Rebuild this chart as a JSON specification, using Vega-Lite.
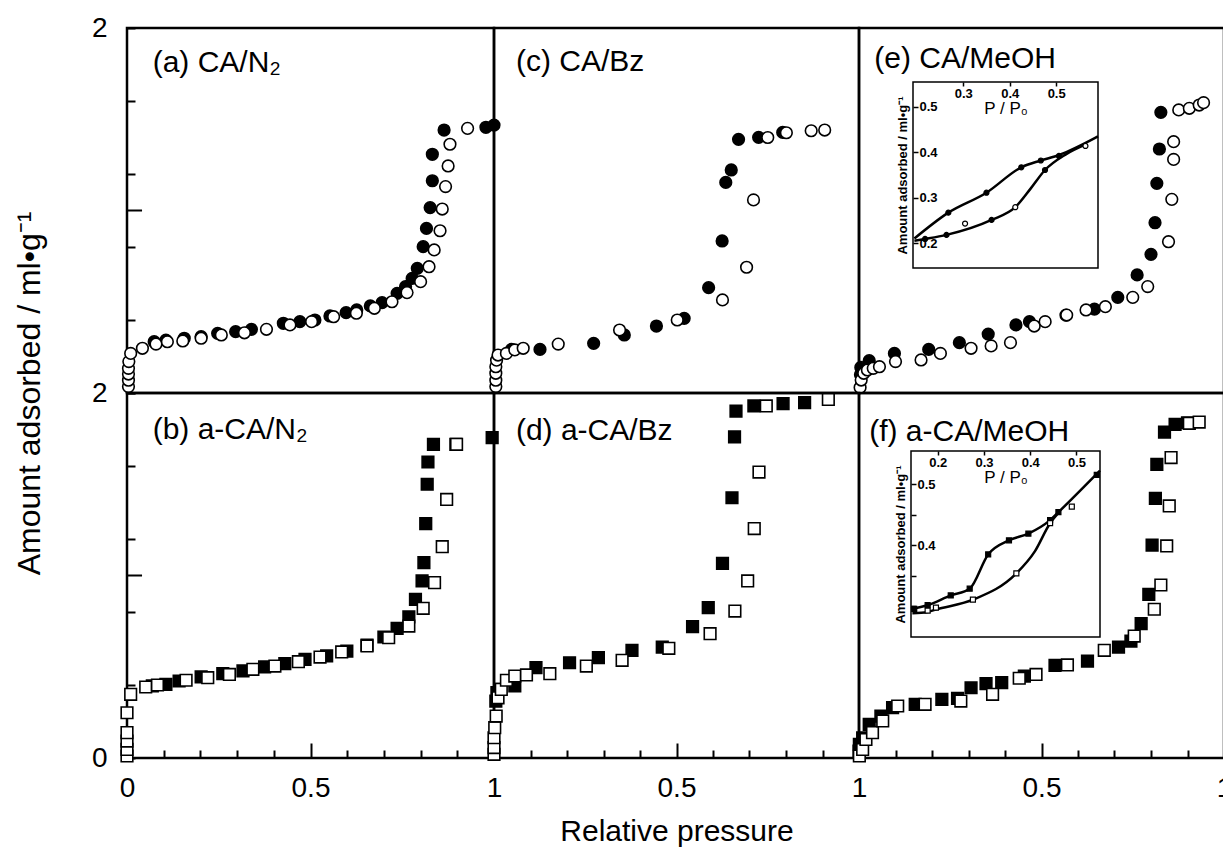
{
"$schema": "https://vega.github.io/schema/vega-lite/v6.json",
"background": "white",
"padding": {"left": 12, "top": 12, "right": 0, "bottom": 0},
"spacing": 0,
"bounds": "flush",
"columns": 3,
"config": {
  "font": "Liberation Sans",
  "view": {"stroke": "black", "strokeWidth": 2.5},
  "axis": {"domain": false, "grid": false, "tickColor": "black", "tickWidth": 2, "labelColor": "black", "titleColor": "black", "labelFontSize": 28, "titleFontSize": 32, "titleFontWeight": "normal", "labelFont": "Liberation Sans", "titleFont": "Liberation Sans", "labelFlush": false, "labelOverlap": false, "labelSeparation": 0}
},
"datasets": {
"iso": [
{"panel":"a","branch":"desorption","p":0.074,"v":0.281},{"panel":"a","branch":"desorption","p":0.106,"v":0.29},{"panel":"a","branch":"desorption","p":0.156,"v":0.30},{"panel":"a","branch":"desorption","p":0.202,"v":0.309},{"panel":"a","branch":"desorption","p":0.247,"v":0.327},{"panel":"a","branch":"desorption","p":0.296,"v":0.336},{"panel":"a","branch":"desorption","p":0.339,"v":0.349},{"panel":"a","branch":"desorption","p":0.426,"v":0.382},{"panel":"a","branch":"desorption","p":0.471,"v":0.391},{"panel":"a","branch":"desorption","p":0.512,"v":0.40},{"panel":"a","branch":"desorption","p":0.553,"v":0.422},{"panel":"a","branch":"desorption","p":0.597,"v":0.44},{"panel":"a","branch":"desorption","p":0.626,"v":0.455},{"panel":"a","branch":"desorption","p":0.663,"v":0.477},{"panel":"a","branch":"desorption","p":0.695,"v":0.495},{"panel":"a","branch":"desorption","p":0.736,"v":0.546},{"panel":"a","branch":"desorption","p":0.759,"v":0.583},{"panel":"a","branch":"desorption","p":0.777,"v":0.628},{"panel":"a","branch":"desorption","p":0.791,"v":0.683},{"panel":"a","branch":"desorption","p":0.807,"v":0.802},{"panel":"a","branch":"desorption","p":0.816,"v":0.902},{"panel":"a","branch":"desorption","p":0.826,"v":1.016},{"panel":"a","branch":"desorption","p":0.832,"v":1.163},{"panel":"a","branch":"desorption","p":0.832,"v":1.308},{"panel":"a","branch":"desorption","p":0.864,"v":1.441},{"panel":"a","branch":"desorption","p":0.978,"v":1.456},{"panel":"a","branch":"desorption","p":1.0,"v":1.468},
{"panel":"a","branch":"adsorption","p":0.004,"v":0.035},{"panel":"a","branch":"adsorption","p":0.004,"v":0.07},{"panel":"a","branch":"adsorption","p":0.004,"v":0.104},{"panel":"a","branch":"adsorption","p":0.004,"v":0.135},{"panel":"a","branch":"adsorption","p":0.005,"v":0.172},{"panel":"a","branch":"adsorption","p":0.01,"v":0.217},{"panel":"a","branch":"adsorption","p":0.042,"v":0.245},{"panel":"a","branch":"adsorption","p":0.079,"v":0.268},{"panel":"a","branch":"adsorption","p":0.11,"v":0.281},{"panel":"a","branch":"adsorption","p":0.152,"v":0.285},{"panel":"a","branch":"adsorption","p":0.202,"v":0.30},{"panel":"a","branch":"adsorption","p":0.257,"v":0.318},{"panel":"a","branch":"adsorption","p":0.32,"v":0.33},{"panel":"a","branch":"adsorption","p":0.38,"v":0.349},{"panel":"a","branch":"adsorption","p":0.444,"v":0.373},{"panel":"a","branch":"adsorption","p":0.503,"v":0.391},{"panel":"a","branch":"adsorption","p":0.563,"v":0.418},{"panel":"a","branch":"adsorption","p":0.625,"v":0.437},{"panel":"a","branch":"adsorption","p":0.674,"v":0.464},{"panel":"a","branch":"adsorption","p":0.722,"v":0.50},{"panel":"a","branch":"adsorption","p":0.763,"v":0.55},{"panel":"a","branch":"adsorption","p":0.80,"v":0.61},{"panel":"a","branch":"adsorption","p":0.823,"v":0.692},{"panel":"a","branch":"adsorption","p":0.837,"v":0.784},{"panel":"a","branch":"adsorption","p":0.853,"v":0.889},{"panel":"a","branch":"adsorption","p":0.859,"v":1.008},{"panel":"a","branch":"adsorption","p":0.868,"v":1.131},{"panel":"a","branch":"adsorption","p":0.875,"v":1.244},{"panel":"a","branch":"adsorption","p":0.88,"v":1.363},{"panel":"a","branch":"adsorption","p":0.928,"v":1.45},
{"panel":"c","branch":"desorption","p":0.048,"v":0.239},{"panel":"c","branch":"desorption","p":0.126,"v":0.239},{"panel":"c","branch":"desorption","p":0.273,"v":0.272},{"panel":"c","branch":"desorption","p":0.357,"v":0.318},{"panel":"c","branch":"desorption","p":0.445,"v":0.367},{"panel":"c","branch":"desorption","p":0.521,"v":0.409},{"panel":"c","branch":"desorption","p":0.588,"v":0.577},{"panel":"c","branch":"desorption","p":0.625,"v":0.833},{"panel":"c","branch":"desorption","p":0.635,"v":1.154},{"panel":"c","branch":"desorption","p":0.65,"v":1.222},{"panel":"c","branch":"desorption","p":0.67,"v":1.39},{"panel":"c","branch":"desorption","p":0.725,"v":1.401},{"panel":"c","branch":"desorption","p":0.791,"v":1.428},
{"panel":"c","branch":"adsorption","p":0.005,"v":0.035},{"panel":"c","branch":"adsorption","p":0.005,"v":0.07},{"panel":"c","branch":"adsorption","p":0.005,"v":0.108},{"panel":"c","branch":"adsorption","p":0.005,"v":0.144},{"panel":"c","branch":"adsorption","p":0.007,"v":0.18},{"panel":"c","branch":"adsorption","p":0.011,"v":0.208},{"panel":"c","branch":"adsorption","p":0.034,"v":0.217},{"panel":"c","branch":"adsorption","p":0.057,"v":0.236},{"panel":"c","branch":"adsorption","p":0.08,"v":0.245},{"panel":"c","branch":"adsorption","p":0.176,"v":0.268},{"panel":"c","branch":"adsorption","p":0.344,"v":0.345},{"panel":"c","branch":"adsorption","p":0.502,"v":0.40},{"panel":"c","branch":"adsorption","p":0.626,"v":0.51},{"panel":"c","branch":"adsorption","p":0.692,"v":0.689},{"panel":"c","branch":"adsorption","p":0.711,"v":1.058},{"panel":"c","branch":"adsorption","p":0.75,"v":1.40},{"panel":"c","branch":"adsorption","p":0.801,"v":1.426},{"panel":"c","branch":"adsorption","p":0.869,"v":1.437},{"panel":"c","branch":"adsorption","p":0.906,"v":1.441},
{"panel":"e","branch":"desorption","p":0.004,"v":0.1},{"panel":"e","branch":"desorption","p":0.005,"v":0.14},{"panel":"e","branch":"desorption","p":0.028,"v":0.177},{"panel":"e","branch":"desorption","p":0.097,"v":0.217},{"panel":"e","branch":"desorption","p":0.191,"v":0.239},{"panel":"e","branch":"desorption","p":0.275,"v":0.276},{"panel":"e","branch":"desorption","p":0.354,"v":0.323},{"panel":"e","branch":"desorption","p":0.43,"v":0.373},{"panel":"e","branch":"desorption","p":0.467,"v":0.391},{"panel":"e","branch":"desorption","p":0.567,"v":0.427},{"panel":"e","branch":"desorption","p":0.645,"v":0.46},{"panel":"e","branch":"desorption","p":0.709,"v":0.524},{"panel":"e","branch":"desorption","p":0.762,"v":0.647},{"panel":"e","branch":"desorption","p":0.80,"v":0.76},{"panel":"e","branch":"desorption","p":0.811,"v":0.933},{"panel":"e","branch":"desorption","p":0.816,"v":1.149},{"panel":"e","branch":"desorption","p":0.823,"v":1.337},{"panel":"e","branch":"desorption","p":0.827,"v":1.538},
{"panel":"e","branch":"adsorption","p":0.003,"v":0.03},{"panel":"e","branch":"adsorption","p":0.006,"v":0.071},{"panel":"e","branch":"adsorption","p":0.013,"v":0.108},{"panel":"e","branch":"adsorption","p":0.023,"v":0.126},{"panel":"e","branch":"adsorption","p":0.039,"v":0.135},{"panel":"e","branch":"adsorption","p":0.056,"v":0.144},{"panel":"e","branch":"adsorption","p":0.1,"v":0.172},{"panel":"e","branch":"adsorption","p":0.17,"v":0.181},{"panel":"e","branch":"adsorption","p":0.223,"v":0.217},{"panel":"e","branch":"adsorption","p":0.307,"v":0.245},{"panel":"e","branch":"adsorption","p":0.362,"v":0.258},{"panel":"e","branch":"adsorption","p":0.415,"v":0.276},{"panel":"e","branch":"adsorption","p":0.48,"v":0.367},{"panel":"e","branch":"adsorption","p":0.51,"v":0.391},{"panel":"e","branch":"adsorption","p":0.569,"v":0.427},{"panel":"e","branch":"adsorption","p":0.622,"v":0.455},{"panel":"e","branch":"adsorption","p":0.675,"v":0.473},{"panel":"e","branch":"adsorption","p":0.75,"v":0.524},{"panel":"e","branch":"adsorption","p":0.791,"v":0.583},{"panel":"e","branch":"adsorption","p":0.848,"v":0.829},{"panel":"e","branch":"adsorption","p":0.857,"v":1.061},{"panel":"e","branch":"adsorption","p":0.862,"v":1.28},{"panel":"e","branch":"adsorption","p":0.862,"v":1.377},{"panel":"e","branch":"adsorption","p":0.876,"v":1.551},{"panel":"e","branch":"adsorption","p":0.905,"v":1.56},{"panel":"e","branch":"adsorption","p":0.932,"v":1.578},{"panel":"e","branch":"adsorption","p":0.944,"v":1.591},
{"panel":"b","branch":"desorption","p":0.069,"v":0.395},{"panel":"b","branch":"desorption","p":0.106,"v":0.404},{"panel":"b","branch":"desorption","p":0.142,"v":0.422},{"panel":"b","branch":"desorption","p":0.202,"v":0.444},{"panel":"b","branch":"desorption","p":0.261,"v":0.462},{"panel":"b","branch":"desorption","p":0.316,"v":0.477},{"panel":"b","branch":"desorption","p":0.375,"v":0.499},{"panel":"b","branch":"desorption","p":0.43,"v":0.517},{"panel":"b","branch":"desorption","p":0.485,"v":0.541},{"panel":"b","branch":"desorption","p":0.544,"v":0.559},{"panel":"b","branch":"desorption","p":0.599,"v":0.586},{"panel":"b","branch":"desorption","p":0.654,"v":0.619},{"panel":"b","branch":"desorption","p":0.70,"v":0.663},{"panel":"b","branch":"desorption","p":0.736,"v":0.71},{"panel":"b","branch":"desorption","p":0.768,"v":0.773},{"panel":"b","branch":"desorption","p":0.786,"v":0.869},{"panel":"b","branch":"desorption","p":0.804,"v":0.97},{"panel":"b","branch":"desorption","p":0.809,"v":1.07},{"panel":"b","branch":"desorption","p":0.814,"v":1.284},{"panel":"b","branch":"desorption","p":0.818,"v":1.50},{"panel":"b","branch":"desorption","p":0.82,"v":1.622},{"panel":"b","branch":"desorption","p":0.835,"v":1.719},{"panel":"b","branch":"desorption","p":0.896,"v":1.719},{"panel":"b","branch":"desorption","p":0.995,"v":1.755},
{"panel":"b","branch":"adsorption","p":0.0,"v":0.011},{"panel":"b","branch":"adsorption","p":0.0,"v":0.047},{"panel":"b","branch":"adsorption","p":0.0,"v":0.093},{"panel":"b","branch":"adsorption","p":0.0,"v":0.139},{"panel":"b","branch":"adsorption","p":0.0,"v":0.248},{"panel":"b","branch":"adsorption","p":0.01,"v":0.349},{"panel":"b","branch":"adsorption","p":0.051,"v":0.389},{"panel":"b","branch":"adsorption","p":0.083,"v":0.40},{"panel":"b","branch":"adsorption","p":0.161,"v":0.426},{"panel":"b","branch":"adsorption","p":0.22,"v":0.44},{"panel":"b","branch":"adsorption","p":0.279,"v":0.458},{"panel":"b","branch":"adsorption","p":0.343,"v":0.486},{"panel":"b","branch":"adsorption","p":0.403,"v":0.504},{"panel":"b","branch":"adsorption","p":0.467,"v":0.528},{"panel":"b","branch":"adsorption","p":0.526,"v":0.553},{"panel":"b","branch":"adsorption","p":0.585,"v":0.581},{"panel":"b","branch":"adsorption","p":0.654,"v":0.614},{"panel":"b","branch":"adsorption","p":0.713,"v":0.659},{"panel":"b","branch":"adsorption","p":0.768,"v":0.723},{"panel":"b","branch":"adsorption","p":0.807,"v":0.82},{"panel":"b","branch":"adsorption","p":0.838,"v":0.961},{"panel":"b","branch":"adsorption","p":0.859,"v":1.158},{"panel":"b","branch":"adsorption","p":0.871,"v":1.417},{"panel":"b","branch":"adsorption","p":0.898,"v":1.719},
{"panel":"d","branch":"desorption","p":0.005,"v":0.312},{"panel":"d","branch":"desorption","p":0.008,"v":0.358},{"panel":"d","branch":"desorption","p":0.016,"v":0.376},{"panel":"d","branch":"desorption","p":0.057,"v":0.395},{"panel":"d","branch":"desorption","p":0.115,"v":0.495},{"panel":"d","branch":"desorption","p":0.207,"v":0.522},{"panel":"d","branch":"desorption","p":0.286,"v":0.55},{"panel":"d","branch":"desorption","p":0.378,"v":0.59},{"panel":"d","branch":"desorption","p":0.461,"v":0.608},{"panel":"d","branch":"desorption","p":0.544,"v":0.72},{"panel":"d","branch":"desorption","p":0.587,"v":0.824},{"panel":"d","branch":"desorption","p":0.626,"v":1.067},{"panel":"d","branch":"desorption","p":0.652,"v":1.426},{"panel":"d","branch":"desorption","p":0.659,"v":1.759},{"panel":"d","branch":"desorption","p":0.663,"v":1.901},{"panel":"d","branch":"desorption","p":0.712,"v":1.929},{"panel":"d","branch":"desorption","p":0.792,"v":1.942},{"panel":"d","branch":"desorption","p":0.851,"v":1.947},
{"panel":"d","branch":"adsorption","p":0.0,"v":0.02},{"panel":"d","branch":"adsorption","p":0.0,"v":0.057},{"panel":"d","branch":"adsorption","p":0.0,"v":0.111},{"panel":"d","branch":"adsorption","p":0.002,"v":0.166},{"panel":"d","branch":"adsorption","p":0.006,"v":0.23},{"panel":"d","branch":"adsorption","p":0.011,"v":0.33},{"panel":"d","branch":"adsorption","p":0.02,"v":0.376},{"panel":"d","branch":"adsorption","p":0.034,"v":0.426},{"panel":"d","branch":"adsorption","p":0.057,"v":0.449},{"panel":"d","branch":"adsorption","p":0.089,"v":0.455},{"panel":"d","branch":"adsorption","p":0.153,"v":0.462},{"panel":"d","branch":"adsorption","p":0.253,"v":0.504},{"panel":"d","branch":"adsorption","p":0.351,"v":0.535},{"panel":"d","branch":"adsorption","p":0.479,"v":0.601},{"panel":"d","branch":"adsorption","p":0.592,"v":0.681},{"panel":"d","branch":"adsorption","p":0.66,"v":0.805},{"panel":"d","branch":"adsorption","p":0.695,"v":0.97},{"panel":"d","branch":"adsorption","p":0.713,"v":1.257},{"panel":"d","branch":"adsorption","p":0.726,"v":1.567},{"panel":"d","branch":"adsorption","p":0.746,"v":1.929},{"panel":"d","branch":"adsorption","p":0.916,"v":1.965},
{"panel":"f","branch":"desorption","p":0.0,"v":0.038},{"panel":"f","branch":"desorption","p":0.001,"v":0.075},{"panel":"f","branch":"desorption","p":0.01,"v":0.111},{"panel":"f","branch":"desorption","p":0.028,"v":0.184},{"panel":"f","branch":"desorption","p":0.06,"v":0.23},{"panel":"f","branch":"desorption","p":0.092,"v":0.276},{"panel":"f","branch":"desorption","p":0.154,"v":0.294},{"panel":"f","branch":"desorption","p":0.227,"v":0.321},{"panel":"f","branch":"desorption","p":0.27,"v":0.327},{"panel":"f","branch":"desorption","p":0.307,"v":0.385},{"panel":"f","branch":"desorption","p":0.348,"v":0.407},{"panel":"f","branch":"desorption","p":0.391,"v":0.413},{"panel":"f","branch":"desorption","p":0.453,"v":0.449},{"panel":"f","branch":"desorption","p":0.537,"v":0.508},{"panel":"f","branch":"desorption","p":0.626,"v":0.531},{"panel":"f","branch":"desorption","p":0.711,"v":0.608},{"panel":"f","branch":"desorption","p":0.745,"v":0.641},{"panel":"f","branch":"desorption","p":0.773,"v":0.736},{"panel":"f","branch":"desorption","p":0.794,"v":0.897},{"panel":"f","branch":"desorption","p":0.803,"v":1.167},{"panel":"f","branch":"desorption","p":0.812,"v":1.423},{"panel":"f","branch":"desorption","p":0.816,"v":1.609},{"panel":"f","branch":"desorption","p":0.837,"v":1.786},{"panel":"f","branch":"desorption","p":0.866,"v":1.828},{"panel":"f","branch":"desorption","p":0.90,"v":1.837},
{"panel":"f","branch":"adsorption","p":0.001,"v":0.011},{"panel":"f","branch":"adsorption","p":0.01,"v":0.047},{"panel":"f","branch":"adsorption","p":0.019,"v":0.102},{"panel":"f","branch":"adsorption","p":0.037,"v":0.139},{"panel":"f","branch":"adsorption","p":0.065,"v":0.203},{"panel":"f","branch":"adsorption","p":0.106,"v":0.285},{"panel":"f","branch":"adsorption","p":0.181,"v":0.294},{"panel":"f","branch":"adsorption","p":0.279,"v":0.312},{"panel":"f","branch":"adsorption","p":0.366,"v":0.349},{"panel":"f","branch":"adsorption","p":0.439,"v":0.437},{"panel":"f","branch":"adsorption","p":0.485,"v":0.458},{"panel":"f","branch":"adsorption","p":0.571,"v":0.51},{"panel":"f","branch":"adsorption","p":0.672,"v":0.59},{"panel":"f","branch":"adsorption","p":0.754,"v":0.668},{"panel":"f","branch":"adsorption","p":0.809,"v":0.815},{"panel":"f","branch":"adsorption","p":0.827,"v":0.948},{"panel":"f","branch":"adsorption","p":0.843,"v":1.162},{"panel":"f","branch":"adsorption","p":0.85,"v":1.381},{"panel":"f","branch":"adsorption","p":0.855,"v":1.646},{"panel":"f","branch":"adsorption","p":0.905,"v":1.834},{"panel":"f","branch":"adsorption","p":0.932,"v":1.841}
],
"insetPts": [
{"panel":"e","branch":"desorption","p":0.268,"v":0.267},{"panel":"e","branch":"desorption","p":0.35,"v":0.311},{"panel":"e","branch":"desorption","p":0.425,"v":0.367},{"panel":"e","branch":"desorption","p":0.467,"v":0.382},{"panel":"e","branch":"desorption","p":0.506,"v":0.392},{"panel":"e","branch":"desorption","p":0.218,"v":0.209},{"panel":"e","branch":"desorption","p":0.264,"v":0.218},{"panel":"e","branch":"desorption","p":0.361,"v":0.251},{"panel":"e","branch":"desorption","p":0.476,"v":0.361},
{"panel":"e","branch":"adsorption","p":0.304,"v":0.243},{"panel":"e","branch":"adsorption","p":0.412,"v":0.279},{"panel":"e","branch":"adsorption","p":0.563,"v":0.414},
{"panel":"f","branch":"desorption","p":0.149,"v":0.296},{"panel":"f","branch":"desorption","p":0.178,"v":0.302},{"panel":"f","branch":"desorption","p":0.228,"v":0.318},{"panel":"f","branch":"desorption","p":0.269,"v":0.329},{"panel":"f","branch":"desorption","p":0.309,"v":0.385},{"panel":"f","branch":"desorption","p":0.354,"v":0.408},{"panel":"f","branch":"desorption","p":0.396,"v":0.419},{"panel":"f","branch":"desorption","p":0.443,"v":0.441},{"panel":"f","branch":"desorption","p":0.461,"v":0.454},{"panel":"f","branch":"desorption","p":0.544,"v":0.515},
{"panel":"f","branch":"adsorption","p":0.178,"v":0.293},{"panel":"f","branch":"adsorption","p":0.196,"v":0.298},{"panel":"f","branch":"adsorption","p":0.276,"v":0.311},{"panel":"f","branch":"adsorption","p":0.37,"v":0.354},{"panel":"f","branch":"adsorption","p":0.443,"v":0.436},{"panel":"f","branch":"adsorption","p":0.49,"v":0.463}
],
"insetLines": [
{"panel":"e","curve":"upper","p":0.195,"v":0.21},{"panel":"e","curve":"upper","p":0.268,"v":0.267},{"panel":"e","curve":"upper","p":0.35,"v":0.311},{"panel":"e","curve":"upper","p":0.425,"v":0.367},{"panel":"e","curve":"upper","p":0.467,"v":0.382},{"panel":"e","curve":"upper","p":0.506,"v":0.394},{"panel":"e","curve":"upper","p":0.59,"v":0.435},
{"panel":"e","curve":"lower","p":0.195,"v":0.205},{"panel":"e","curve":"lower","p":0.218,"v":0.209},{"panel":"e","curve":"lower","p":0.264,"v":0.218},{"panel":"e","curve":"lower","p":0.361,"v":0.251},{"panel":"e","curve":"lower","p":0.412,"v":0.279},{"panel":"e","curve":"lower","p":0.445,"v":0.32},{"panel":"e","curve":"lower","p":0.476,"v":0.361},{"panel":"e","curve":"lower","p":0.52,"v":0.395},{"panel":"e","curve":"lower","p":0.565,"v":0.418},
{"panel":"f","curve":"upper","p":0.142,"v":0.296},{"panel":"f","curve":"upper","p":0.178,"v":0.302},{"panel":"f","curve":"upper","p":0.228,"v":0.318},{"panel":"f","curve":"upper","p":0.269,"v":0.329},{"panel":"f","curve":"upper","p":0.309,"v":0.385},{"panel":"f","curve":"upper","p":0.354,"v":0.408},{"panel":"f","curve":"upper","p":0.396,"v":0.419},{"panel":"f","curve":"upper","p":0.443,"v":0.441},{"panel":"f","curve":"upper","p":0.461,"v":0.454},{"panel":"f","curve":"upper","p":0.551,"v":0.522},
{"panel":"f","curve":"lower","p":0.145,"v":0.289},{"panel":"f","curve":"lower","p":0.178,"v":0.291},{"panel":"f","curve":"lower","p":0.196,"v":0.295},{"panel":"f","curve":"lower","p":0.276,"v":0.311},{"panel":"f","curve":"lower","p":0.37,"v":0.354},{"panel":"f","curve":"lower","p":0.41,"v":0.39},{"panel":"f","curve":"lower","p":0.443,"v":0.436},{"panel":"f","curve":"lower","p":0.46,"v":0.452}
],
"labels": [
{"panel":"a","label":"(a) CA/N₂","p":0.07,"v":1.76},
{"panel":"c","label":"(c) CA/Bz","p":0.06,"v":1.766},
{"panel":"e","label":"(e) CA/MeOH","p":0.042,"v":1.78},
{"panel":"b","label":"(b) a-CA/N₂","p":0.07,"v":1.75},
{"panel":"d","label":"(d) a-CA/Bz","p":0.06,"v":1.74},
{"panel":"f","label":"(f) a-CA/MeOH","p":0.028,"v":1.737}
]
},
"concat": [
 {"width": 367, "height": 365, "layer": [
  {"data": {"name": "iso"}, "transform": [{"filter": {"field": "panel", "equal": "a"}}],
   "mark": {"type": "point", "shape": "circle", "size": 135, "stroke": "black", "strokeWidth": 1.6, "opacity": 1},
   "encoding": {
    "x": {"field": "p", "type": "quantitative", "scale": {"domain": [0, 1], "nice": false, "zero": false}, "axis": null},
    "y": {"field": "v", "type": "quantitative", "scale": {"domain": [0, 2], "nice": false, "zero": false},
      "axis": {"values": [0,0.2,0.4,0.6,0.8,1,1.2,1.4,1.6,1.8,2], "labelExpr": "abs(datum.value - 1) < 0.01 ? '1' : abs(datum.value - 2) < 0.01 ? '2' : ''", "labelOverlap": false, "tickSize": -8, "labelPadding": 28, "title": "Amount adsorbed / ml•g⁻¹", "titleY": 365, "titlePadding": 45}},
    "fill": {"field": "branch", "type": "nominal", "scale": {"domain": ["desorption", "adsorption"], "range": ["black", "white"]}, "legend": null}}},
  {"data": {"values": [{}]}, "mark": {"type": "rule", "color": "black", "strokeWidth": 2},
   "encoding": {"x": {"datum": 0, "type": "quantitative"}, "x2": {"datum": 0.041}, "y": {"datum": 1, "type": "quantitative"}}},
  {"data": {"name": "labels"}, "transform": [{"filter": {"field": "panel", "equal": "a"}}],
   "mark": {"type": "text", "align": "left", "baseline": "alphabetic", "fontSize": 30, "color": "black"},
   "encoding": {"x": {"field": "p", "type": "quantitative"}, "y": {"field": "v", "type": "quantitative"}, "text": {"field": "label"}}}
 ]},
 {"width": 365, "height": 365, "layer": [
  {"data": {"name": "iso"}, "transform": [{"filter": {"field": "panel", "equal": "c"}}],
   "mark": {"type": "point", "shape": "circle", "size": 135, "stroke": "black", "strokeWidth": 1.6, "opacity": 1},
   "encoding": {
    "x": {"field": "p", "type": "quantitative", "scale": {"domain": [0, 1], "nice": false, "zero": false}, "axis": null},
    "y": {"field": "v", "type": "quantitative", "scale": {"domain": [0, 2], "nice": false, "zero": false}, "axis": null},
    "fill": {"field": "branch", "type": "nominal", "scale": {"domain": ["desorption", "adsorption"], "range": ["black", "white"]}, "legend": null}}},
  {"data": {"name": "labels"}, "transform": [{"filter": {"field": "panel", "equal": "c"}}],
   "mark": {"type": "text", "align": "left", "baseline": "alphabetic", "fontSize": 30, "color": "black"},
   "encoding": {"x": {"field": "p", "type": "quantitative"}, "y": {"field": "v", "type": "quantitative"}, "text": {"field": "label"}}}
 ]},
 {"width": 365, "height": 365,
  "resolve": {"scale": {"x": "independent", "y": "independent"}, "axis": {"x": "independent", "y": "independent"}},
  "layer": [
  {"layer": [
   {"data": {"name": "iso"}, "transform": [{"filter": {"field": "panel", "equal": "e"}}],
    "mark": {"type": "point", "shape": "circle", "size": 135, "stroke": "black", "strokeWidth": 1.6, "opacity": 1},
    "encoding": {
     "x": {"field": "p", "type": "quantitative", "scale": {"domain": [0, 1], "nice": false, "zero": false}, "axis": null},
     "y": {"field": "v", "type": "quantitative", "scale": {"domain": [0, 2], "nice": false, "zero": false}, "axis": null},
     "fill": {"field": "branch", "type": "nominal", "scale": {"domain": ["desorption", "adsorption"], "range": ["black", "white"]}, "legend": null}}},
   {"data": {"name": "labels"}, "transform": [{"filter": {"field": "panel", "equal": "e"}}],
    "mark": {"type": "text", "align": "left", "baseline": "alphabetic", "fontSize": 30, "color": "black"},
    "encoding": {"x": {"field": "p", "type": "quantitative"}, "y": {"field": "v", "type": "quantitative"}, "text": {"field": "label"}}}
  ]},
  {"layer": [
   {"data": {"values": [{}]},
    "mark": {"type": "rect", "fill": "white", "fillOpacity": 0, "stroke": "black", "strokeWidth": 1.5},
    "encoding": {
     "x": {"datum": 0.192, "type": "quantitative", "scale": {"domain": [0.192, 0.59], "range": [54, 239], "nice": false, "zero": false}},
     "x2": {"datum": 0.59},
     "y": {"datum": 0.145, "type": "quantitative", "scale": {"domain": [0.145, 0.555], "range": [240, 54], "nice": false, "zero": false}},
     "y2": {"datum": 0.555}}},
   {"data": {"name": "insetLines"}, "transform": [{"filter": {"field": "panel", "equal": "e"}}],
    "mark": {"type": "line", "interpolate": "monotone", "color": "black", "strokeWidth": 2.5},
    "encoding": {
     "x": {"field": "p", "type": "quantitative", "scale": {"domain": [0.192, 0.59], "range": [54, 239], "nice": false, "zero": false},
       "axis": {"orient": "bottom", "offset": -311, "values": [0.3, 0.4, 0.5], "format": ".1f", "tickSize": 4, "tickWidth": 1.5, "labelFontSize": 13, "labelFontWeight": "bold", "labelPadding": 1, "title": "P / P₀", "titleFontSize": 17, "titlePadding": 0}},
     "y": {"field": "v", "type": "quantitative", "scale": {"domain": [0.145, 0.555], "range": [240, 54], "nice": false, "zero": false},
       "axis": {"orient": "right", "offset": -311, "values": [0.2, 0.3, 0.4, 0.5], "format": ".1f", "tickSize": 5, "tickWidth": 1.5, "labelFontSize": 13, "labelFontWeight": "bold", "labelPadding": 1, "title": "Amount adsorbed / ml•g⁻¹", "titleFontSize": 13, "titleFontWeight": "bold", "titleAngle": 270, "titleX": -4, "titleY": 147, "titleAlign": "center", "titleBaseline": "bottom"}},
     "detail": {"field": "curve"}}},
   {"data": {"name": "insetPts"}, "transform": [{"filter": {"field": "panel", "equal": "e"}}],
    "mark": {"type": "point", "shape": "circle", "size": 25, "stroke": "black", "strokeWidth": 1.2, "opacity": 1},
    "encoding": {
     "x": {"field": "p", "type": "quantitative", "scale": {"domain": [0.192, 0.59], "range": [54, 239], "nice": false, "zero": false}},
     "y": {"field": "v", "type": "quantitative", "scale": {"domain": [0.145, 0.555], "range": [240, 54], "nice": false, "zero": false}},
     "fill": {"field": "branch", "type": "nominal", "scale": {"domain": ["desorption", "adsorption"], "range": ["black", "white"]}, "legend": null}}}
  ]}
 ]},
 {"width": 367, "height": 365,
  "resolve": {"axis": {"x": "independent"}},
  "layer": [
  {"data": {"name": "iso"}, "transform": [{"filter": {"field": "panel", "equal": "b"}}],
   "mark": {"type": "point", "shape": "square", "size": 135, "stroke": "black", "strokeWidth": 1.6, "opacity": 1},
   "encoding": {
    "x": {"field": "p", "type": "quantitative", "scale": {"domain": [0, 1], "nice": false, "zero": false},
      "axis": {"orient": "bottom", "values": [0, 0.5, 1], "labelExpr": "datum.value < 0.25 ? '0' : datum.value < 0.75 ? '0.5' : '1'", "labelOverlap": false, "tickSize": -15, "labelPadding": 31, "title": null}},
    "y": {"field": "v", "type": "quantitative", "scale": {"domain": [0, 2], "nice": false, "zero": false},
      "axis": {"values": [0,0.2,0.4,0.6,0.8,1,1.2,1.4,1.6,1.8,2], "labelExpr": "abs(datum.value) < 0.01 ? '0' : abs(datum.value - 1) < 0.01 ? '1' : abs(datum.value - 2) < 0.01 ? '2' : ''", "labelOverlap": false, "tickSize": -8, "labelPadding": 28, "title": null}},
    "fill": {"field": "branch", "type": "nominal", "scale": {"domain": ["desorption", "adsorption"], "range": ["black", "white"]}, "legend": null}}},
  {"data": {"values": [{}]}, "mark": {"type": "rule", "color": "black", "strokeWidth": 2},
   "encoding": {"x": {"datum": 0, "type": "quantitative", "axis": null}, "x2": {"datum": 0.041}, "y": {"datum": 1, "type": "quantitative"}}},
  {"data": {"name": "labels"}, "transform": [{"filter": {"field": "panel", "equal": "b"}}],
   "mark": {"type": "text", "align": "left", "baseline": "alphabetic", "fontSize": 30, "color": "black"},
   "encoding": {
    "x": {"field": "p", "type": "quantitative", "axis": {"orient": "bottom", "values": [0.1,0.2,0.3,0.4,0.6,0.7,0.8,0.9], "labels": false, "tickSize": -8, "title": null}},
    "y": {"field": "v", "type": "quantitative"}, "text": {"field": "label"}}}
 ]},
 {"width": 365, "height": 365,
  "resolve": {"axis": {"x": "independent"}},
  "layer": [
  {"data": {"name": "iso"}, "transform": [{"filter": {"field": "panel", "equal": "d"}}],
   "mark": {"type": "point", "shape": "square", "size": 135, "stroke": "black", "strokeWidth": 1.6, "opacity": 1},
   "encoding": {
    "x": {"field": "p", "type": "quantitative", "scale": {"domain": [0, 1], "nice": false, "zero": false},
      "axis": {"orient": "bottom", "values": [0, 0.5, 1], "labelExpr": "datum.value < 0.25 ? '' : datum.value < 0.75 ? '0.5' : '1'", "labelOverlap": false, "tickSize": -15, "labelPadding": 31, "title": "Relative pressure", "titleFontSize": 30, "titlePadding": 14}},
    "y": {"field": "v", "type": "quantitative", "scale": {"domain": [0, 2], "nice": false, "zero": false}, "axis": null},
    "fill": {"field": "branch", "type": "nominal", "scale": {"domain": ["desorption", "adsorption"], "range": ["black", "white"]}, "legend": null}}},
  {"data": {"name": "labels"}, "transform": [{"filter": {"field": "panel", "equal": "d"}}],
   "mark": {"type": "text", "align": "left", "baseline": "alphabetic", "fontSize": 30, "color": "black"},
   "encoding": {
    "x": {"field": "p", "type": "quantitative", "axis": {"orient": "bottom", "values": [0.1,0.2,0.3,0.4,0.6,0.7,0.8,0.9], "labels": false, "tickSize": -8, "title": null}},
    "y": {"field": "v", "type": "quantitative"}, "text": {"field": "label"}}}
 ]},
 {"width": 365, "height": 365,
  "resolve": {"scale": {"x": "independent", "y": "independent"}, "axis": {"x": "independent", "y": "independent"}},
  "layer": [
  {"resolve": {"axis": {"x": "independent"}},
   "layer": [
   {"data": {"name": "iso"}, "transform": [{"filter": {"field": "panel", "equal": "f"}}],
    "mark": {"type": "point", "shape": "square", "size": 135, "stroke": "black", "strokeWidth": 1.6, "opacity": 1},
    "encoding": {
     "x": {"field": "p", "type": "quantitative", "scale": {"domain": [0, 1], "nice": false, "zero": false},
       "axis": {"orient": "bottom", "values": [0, 0.5, 1], "labelExpr": "datum.value < 0.25 ? '' : datum.value < 0.75 ? '0.5' : '1'", "labelOverlap": false, "tickSize": -15, "labelPadding": 31, "title": null}},
     "y": {"field": "v", "type": "quantitative", "scale": {"domain": [0, 2], "nice": false, "zero": false}, "axis": null},
     "fill": {"field": "branch", "type": "nominal", "scale": {"domain": ["desorption", "adsorption"], "range": ["black", "white"]}, "legend": null}}},
   {"data": {"name": "labels"}, "transform": [{"filter": {"field": "panel", "equal": "f"}}],
    "mark": {"type": "text", "align": "left", "baseline": "alphabetic", "fontSize": 30, "color": "black"},
    "encoding": {
     "x": {"field": "p", "type": "quantitative", "axis": {"orient": "bottom", "values": [0.1,0.2,0.3,0.4,0.6,0.7,0.8,0.9], "labels": false, "tickSize": -8, "title": null}},
     "y": {"field": "v", "type": "quantitative"}, "text": {"field": "label"}}}
  ]},
  {"layer": [
   {"data": {"values": [{}]},
    "mark": {"type": "rect", "fill": "white", "fillOpacity": 0, "stroke": "black", "strokeWidth": 1.5},
    "encoding": {
     "x": {"datum": 0.142, "type": "quantitative", "scale": {"domain": [0.142, 0.551], "range": [52, 241], "nice": false, "zero": false}},
     "x2": {"datum": 0.551},
     "y": {"datum": 0.25, "type": "quantitative", "scale": {"domain": [0.25, 0.554], "range": [244, 58], "nice": false, "zero": false}},
     "y2": {"datum": 0.554}}},
   {"data": {"name": "insetLines"}, "transform": [{"filter": {"field": "panel", "equal": "f"}}],
    "mark": {"type": "line", "interpolate": "monotone", "color": "black", "strokeWidth": 2.5},
    "encoding": {
     "x": {"field": "p", "type": "quantitative", "scale": {"domain": [0.142, 0.551], "range": [52, 241], "nice": false, "zero": false},
       "axis": {"orient": "bottom", "offset": -307, "values": [0.2, 0.3, 0.4, 0.5], "format": ".1f", "tickSize": 4, "tickWidth": 1.5, "labelFontSize": 13, "labelFontWeight": "bold", "labelPadding": 1, "title": "P / P₀", "titleFontSize": 17, "titlePadding": 0}},
     "y": {"field": "v", "type": "quantitative", "scale": {"domain": [0.25, 0.554], "range": [244, 58], "nice": false, "zero": false},
       "axis": {"orient": "right", "offset": -313, "values": [0.3, 0.35, 0.4, 0.45, 0.5], "labelExpr": "abs(datum.value - 0.4) < 0.001 ? '0.4' : abs(datum.value - 0.5) < 0.001 ? '0.5' : ''", "labelOverlap": false, "tickSize": 5, "tickWidth": 1.5, "labelFontSize": 13, "labelFontWeight": "bold", "labelPadding": 1, "title": "Amount adsorbed / ml•g⁻¹", "titleFontSize": 13, "titleFontWeight": "bold", "titleAngle": 270, "titleX": -4, "titleY": 151, "titleAlign": "center", "titleBaseline": "bottom"}},
     "detail": {"field": "curve"}}},
   {"data": {"name": "insetPts"}, "transform": [{"filter": {"field": "panel", "equal": "f"}}],
    "mark": {"type": "point", "shape": "square", "size": 25, "stroke": "black", "strokeWidth": 1.2, "opacity": 1},
    "encoding": {
     "x": {"field": "p", "type": "quantitative", "scale": {"domain": [0.142, 0.551], "range": [52, 241], "nice": false, "zero": false}},
     "y": {"field": "v", "type": "quantitative", "scale": {"domain": [0.25, 0.554], "range": [244, 58], "nice": false, "zero": false}},
     "fill": {"field": "branch", "type": "nominal", "scale": {"domain": ["desorption", "adsorption"], "range": ["black", "white"]}, "legend": null}}}
  ]}
 ]}
]
}
